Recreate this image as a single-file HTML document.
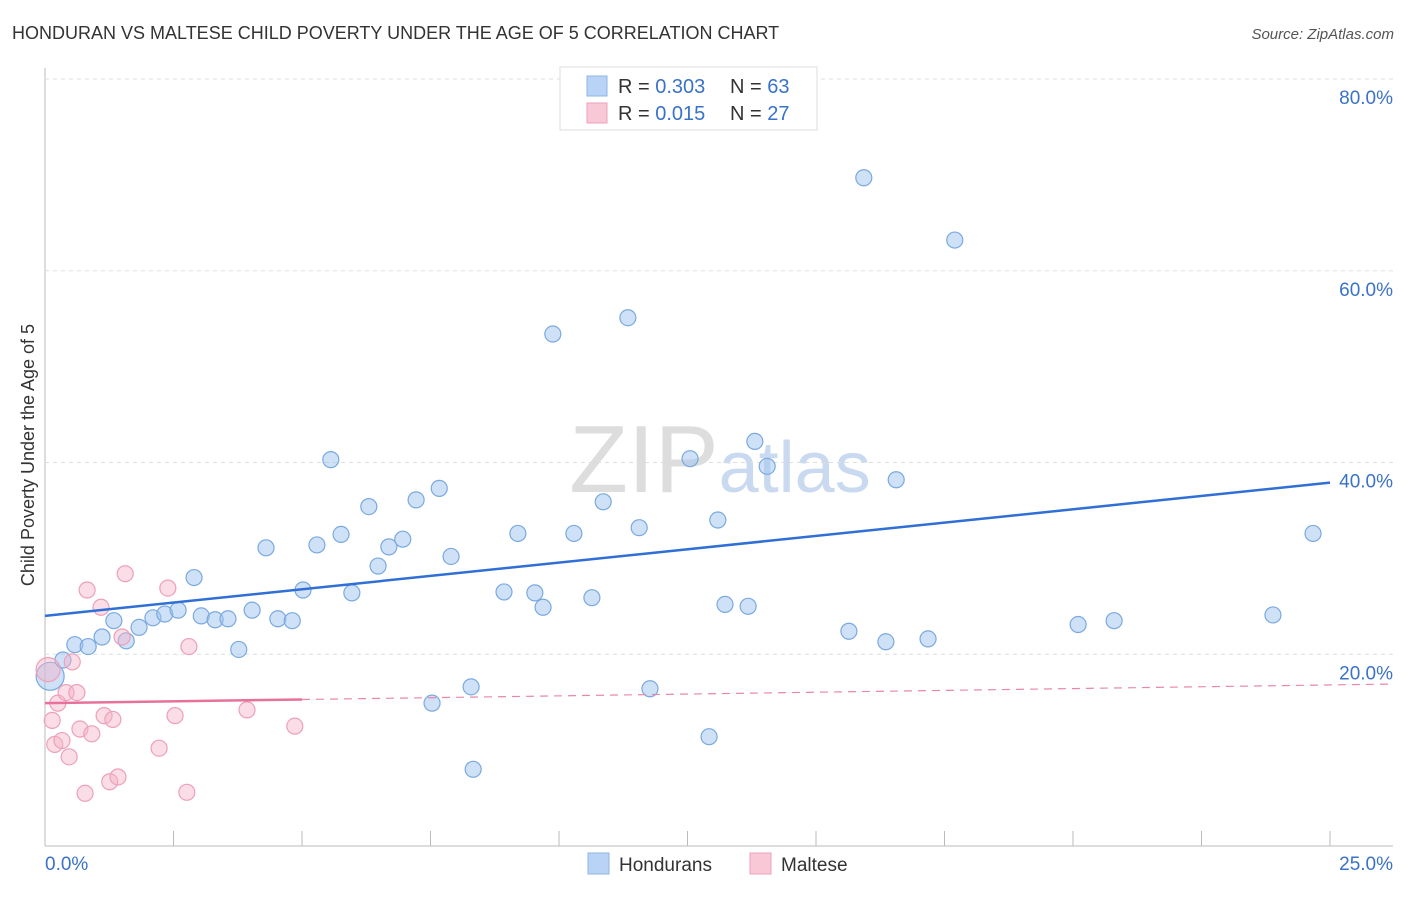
<!DOCTYPE html>
<html><head><meta charset="utf-8"><style>
body{margin:0;background:#fff;font-family:"Liberation Sans",sans-serif;}
svg text{font-family:"Liberation Sans",sans-serif;}
</style></head><body>
<svg id="c" width="1406" height="892" xmlns="http://www.w3.org/2000/svg">
<text x="12" y="39" font-size="18" fill="#333">HONDURAN VS MALTESE CHILD POVERTY UNDER THE AGE OF 5 CORRELATION CHART</text>
<text x="1394" y="39" font-size="15" fill="#555" font-style="italic" text-anchor="end">Source: ZipAtlas.com</text>
<text x="720" y="492" font-size="96" fill="#ddd" text-anchor="middle" font-family="Liberation Serif">ZIP<tspan fill="#c9daf0" font-family="Liberation Sans" font-size="72">atlas</tspan></text>
<text transform="translate(34,455) rotate(-90)" font-size="18" fill="#333" text-anchor="middle">Child Poverty Under the Age of 5</text>
<g id="grid"></g><g id="pts"></g><g id="lines"></g>
<g>
<rect x="560" y="67" width="257" height="63" fill="#fff" stroke="#ddd"/>
<rect x="587" y="76" width="20" height="20" fill="#b8d3f5" stroke="#8fb5e6"/>
<rect x="587" y="103" width="20" height="20" fill="#f8c8d6" stroke="#eea0b8"/>
<text x="618" y="93" font-size="20" fill="#333">R = <tspan fill="#3a72c8">0.303</tspan></text>
<text x="730" y="93" font-size="20" fill="#333">N = <tspan fill="#3a72c8">63</tspan></text>
<text x="618" y="120" font-size="20" fill="#333">R = <tspan fill="#3a72c8"> 0.015</tspan></text>
<text x="730" y="120" font-size="20" fill="#333">N = <tspan fill="#3a72c8">27</tspan></text>
</g>
<g>
<rect x="588" y="853" width="21" height="21" fill="#b8d3f5" stroke="#8fb5e6"/>
<text x="619" y="871" font-size="19" fill="#333">Hondurans</text>
<rect x="750" y="853" width="21" height="21" fill="#f8c8d6" stroke="#eea0b8"/>
<text x="781" y="871" font-size="19" fill="#333">Maltese</text>
</g>
</svg>
<script>
const yTicks=[20,40,60,80];
const xTickLabels=["0.0%","25.0%"];
const blueX=[0.10,0.35,0.58,0.84,1.11,1.34,1.58,1.83,2.10,2.33,2.59,2.90,3.04,3.31,3.56,3.77,4.03,4.30,4.53,4.81,5.02,5.29,5.56,5.76,5.97,6.30,6.48,6.69,6.96,7.22,7.53,7.67,7.90,8.29,8.33,8.93,9.20,9.53,9.69,9.88,10.29,10.64,10.86,11.34,11.56,11.77,12.55,12.92,13.09,13.23,13.68,13.81,14.05,15.64,15.93,16.36,16.56,17.18,17.70,20.10,20.80,23.89,24.67];
const blueY=[17.7,19.4,21.0,20.8,21.8,23.5,21.4,22.8,23.8,24.2,24.6,28.0,24.0,23.6,23.7,20.5,24.6,31.1,23.7,23.5,26.7,31.4,40.3,32.5,26.4,35.4,29.2,31.2,32.0,36.1,14.9,37.3,30.2,16.6,8.0,26.5,32.6,26.4,24.9,53.4,32.6,25.9,35.9,55.1,33.2,16.4,40.4,11.4,34.0,25.2,25.0,42.2,39.6,22.4,69.7,21.3,38.2,21.6,63.2,23.1,23.5,24.1,32.6];
const pinkX=[0.06,0.14,0.19,0.25,0.33,0.47,0.53,0.41,0.62,0.68,0.78,0.82,0.91,1.09,1.15,1.26,1.32,1.42,1.50,1.56,2.22,2.39,2.53,2.76,2.80,3.93,4.86];
const pinkY=[18.4,13.1,10.6,14.9,11.0,9.3,19.2,16.0,16.0,12.2,5.5,26.7,11.7,24.9,13.6,6.7,13.2,7.2,21.8,28.4,10.2,26.9,13.6,5.6,20.8,14.2,12.5];
const blueTrend=[24.0,37.9];
const pinkTrend=[14.9,16.8];
const NS="http://www.w3.org/2000/svg";
const X=v=>45+v*51.4, Y=v=>846-v*9.5875;
function mk(t,a,p){const e=document.createElementNS(NS,t);for(const k in a)e.setAttribute(k,a[k]);p.appendChild(e);return e;}
const g=document.getElementById('grid');
let ax=mk('line',{x1:45,y1:68,x2:45,y2:846,stroke:'#bbb'},g);

let bx=mk('line',{x1:45,y1:846,x2:1393,y2:846,stroke:'#bbb'},g);

for(let i=1;i<=10;i++){let t=mk('line',{x1:X(i*2.5),y1:831,x2:X(i*2.5),y2:846,stroke:'#bbb'},g);
}
yTicks.forEach(v=>{let l=mk('line',{x1:45,y1:Y(v),x2:1393,y2:Y(v),stroke:'#ddd','stroke-dasharray':'4,4'},g);

let t=mk('text',{x:1393,y:Y(v)+25,'font-size':19,fill:'#3a72c8','text-anchor':'end'},g);t.textContent=v.toFixed(1)+'%';
});
[[0,'start',45],[1,'end',1393]].forEach(([i,a,x])=>{let t=mk('text',{x:x,y:870,'font-size':19,fill:'#3a72c8','text-anchor':a},g);t.textContent=xTickLabels[i];
});
const p=document.getElementById('pts');
blueX.forEach((v,i)=>{let c=mk('circle',{cx:X(v),cy:Y(blueY[i]),r:i==0?14:8,fill:'rgba(160,196,240,0.5)',stroke:'#7aa9e0','stroke-width':1.2},p);
});
pinkX.forEach((v,i)=>{let c=mk('circle',{cx:X(v),cy:Y(pinkY[i]),r:i==0?12:8,fill:'rgba(245,180,200,0.45)',stroke:'#eea0b8','stroke-width':1.2},p);
});
const L=document.getElementById('lines');
let b=mk('line',{x1:X(0),y1:Y(blueTrend[0]),x2:X(25),y2:Y(blueTrend[1]),stroke:'#2f6fd6','stroke-width':2.5},L);

const pm=v=>pinkTrend[0]+(pinkTrend[1]-pinkTrend[0])*v/25;
let pd=mk('line',{x1:X(5),y1:Y(pm(5)),x2:X(26.2),y2:Y(pm(26.2)),stroke:'#e888a8','stroke-width':1.2,'stroke-dasharray':'8,6'},L);

let ps=mk('line',{x1:X(0),y1:Y(pm(0)),x2:X(5),y2:Y(pm(5)),stroke:'#e8709a','stroke-width':2.5},L);

</script>
</body></html>
